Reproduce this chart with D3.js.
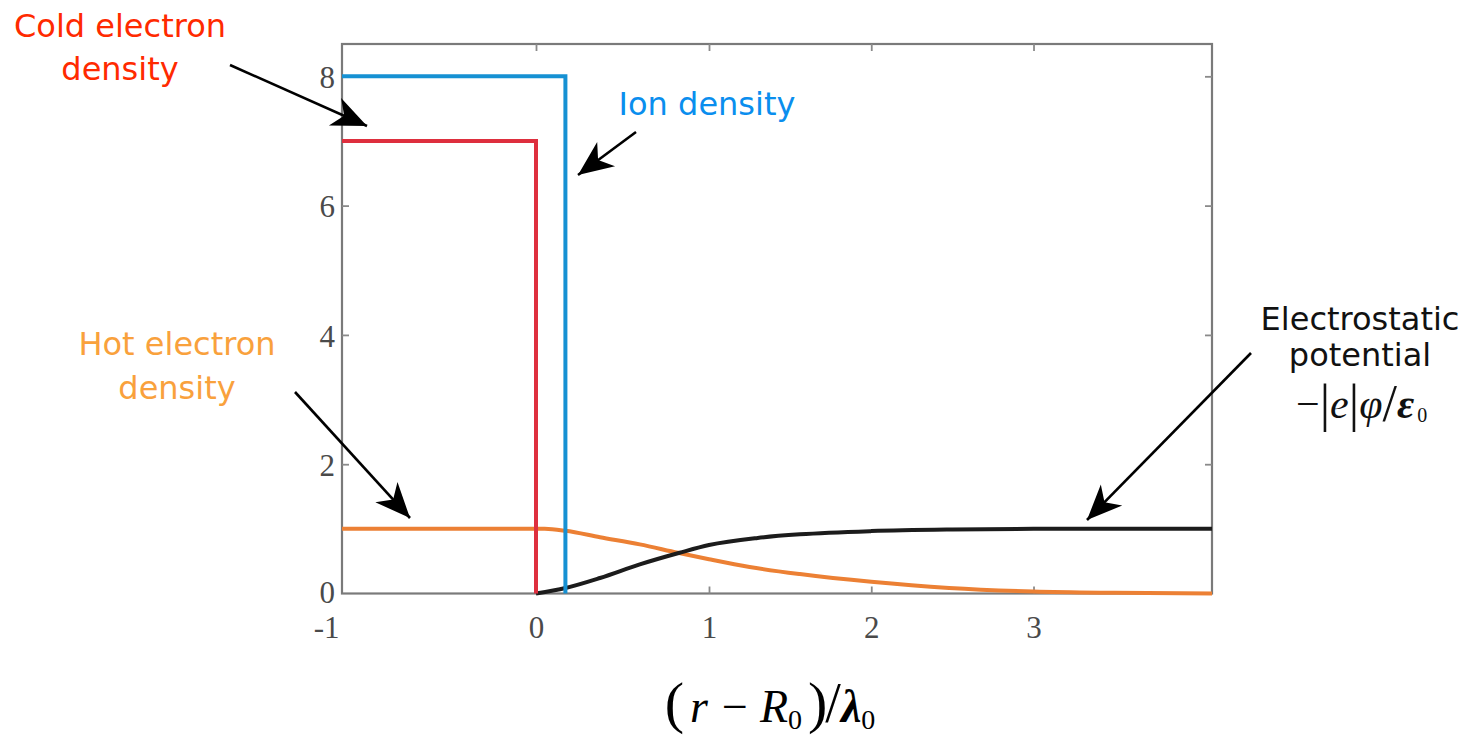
<!DOCTYPE html>
<html>
<head>
<meta charset="utf-8">
<script src="https://cdn.jsdelivr.net/npm/d3@7"></script>
<style>
  html, body { margin: 0; padding: 0; background: #fff; }
  svg { display: block; }
</style>
</head>
<body>
<svg id="chart" width="1469" height="743"></svg>
<script>
// ---- data ----
const xTickValues = [-1, 0, 1, 2, 3];
const yTickValues = [0, 2, 4, 6, 8];

const ionX  = [-1, 0.17, 0.17];
const ionY  = [8, 8, 0];

const coldX = [-1, 0, 0];
const coldY = [7, 7, 0];

const hotX = [-1, 0, 0.05, 0.17, 0.37, 0.6, 0.82, 1.0, 1.25, 1.56, 2.0, 2.48, 3.0, 3.5, 4.1];
const hotY = [1, 1, 1, 0.97, 0.87, 0.76, 0.63, 0.53, 0.41, 0.30, 0.18, 0.085, 0.03, 0.01, 0];

const potX = [0, 0.17, 0.37, 0.6, 0.83, 1.0, 1.3, 1.56, 2.0, 2.5, 3.0, 3.5, 4.1];
const potY = [0, 0.085, 0.24, 0.45, 0.63, 0.75, 0.86, 0.915, 0.965, 0.99, 1.0, 1.0, 1.0];

// ---- layout ----
const svg = d3.select("#chart");
const L = 342, R = 1212, T = 44, B = 593.5;

// the reference's x axis is not uniform (the -1..0 span is wider), so a polylinear scale is used
const x = d3.scaleLinear().domain([-1, 0, 1, 4.1]).range([L, 536, 709, R]);
const y = d3.scaleLinear().domain([0, 8.5]).range([B, T]);

const zip = (xs, ys) => xs.map((v, i) => [v, ys[i]]);

// frame
svg.append("rect")
  .attr("x", L).attr("y", T).attr("width", R - L).attr("height", B - T)
  .attr("fill", "none").attr("stroke", "#7a7a7a").attr("stroke-width", 2.2);

const tickFont = "'Liberation Serif', 'Times New Roman', serif";
const fmt = d => String(d);

// axes
const gx = svg.append("g").attr("transform", `translate(0,${B})`)
  .call(d3.axisBottom(x).tickValues(xTickValues).tickSizeInner(-7).tickSizeOuter(0).tickPadding(22).tickFormat(fmt));
const gy = svg.append("g").attr("transform", `translate(${L},0)`)
  .call(d3.axisLeft(y).tickValues(yTickValues).tickSizeInner(-7).tickSizeOuter(0).tickPadding(7).tickFormat(fmt));
const gt = svg.append("g").attr("transform", `translate(0,${T})`)
  .call(d3.axisTop(x).tickValues(xTickValues).tickSizeInner(-7).tickSizeOuter(0).tickFormat(""));
const gr = svg.append("g").attr("transform", `translate(${R},0)`)
  .call(d3.axisRight(y).tickValues(yTickValues).tickSizeInner(-7).tickSizeOuter(0).tickFormat(""));

[gx, gy, gt, gr].forEach(g => {
  g.select(".domain").remove();
  g.selectAll(".tick line").attr("stroke", "#8a8a8a").attr("stroke-width", 1.8);
  g.selectAll(".tick text").attr("fill", "#4a4a4a").style("font-family", tickFont).style("font-size", "31px");
});
gx.selectAll(".tick text").attr("dy", "0.71em");
gx.selectAll(".tick text").filter(d => d === -1).attr("text-anchor", "end").attr("x", -3);
gy.selectAll(".tick text").attr("dy", "0.36em");
gy.selectAll(".tick text").filter(d => d === 0).attr("y", -2);
// hide tick marks coinciding with frame corners
gx.selectAll(".tick").filter(d => d === -1).select("line").remove();
gt.selectAll(".tick").filter(d => d === -1).select("line").remove();
gy.selectAll(".tick").filter(d => d === 0).select("line").remove();
gr.selectAll(".tick").filter(d => d === 0).select("line").remove();

// series
const lineStep = d3.line().x(d => x(d[0])).y(d => y(d[1]));
const lineSmooth = d3.line().x(d => x(d[0])).y(d => y(d[1])).curve(d3.curveMonotoneX);

svg.append("path").datum(zip(hotX, hotY)).attr("d", lineSmooth)
  .attr("fill", "none").attr("stroke", "#EC8034").attr("stroke-width", 4);
svg.append("path").datum(zip(potX, potY)).attr("d", lineSmooth)
  .attr("fill", "none").attr("stroke", "#1c1c1c").attr("stroke-width", 4);
svg.append("path").datum(zip(coldX, coldY)).attr("d", lineStep)
  .attr("fill", "none").attr("stroke", "#DE2F3E").attr("stroke-width", 4);
svg.append("path").datum(zip(ionX, ionY)).attr("d", lineStep)
  .attr("fill", "none").attr("stroke", "#1691D3").attr("stroke-width", 4);

// arrows
const defs = svg.append("defs");
defs.append("marker").attr("id", "head")
  .attr("markerUnits", "userSpaceOnUse")
  .attr("viewBox", "-36 -16 38 32")
  .attr("refX", 0).attr("refY", 0)
  .attr("markerWidth", 38).attr("markerHeight", 32)
  .attr("orient", "auto")
  .append("path").attr("d", "M0,0 L-35,-15 L-25,0 L-35,15 Z").attr("fill", "#000");

const arrows = [
  [230, 65, 367, 126],
  [636, 132, 578, 175],
  [295, 392, 410, 518],
  [1251, 353, 1087, 520]
];
svg.selectAll("line.arrow").data(arrows).join("line").attr("class", "arrow")
  .attr("x1", d => d[0]).attr("y1", d => d[1]).attr("x2", d => d[2]).attr("y2", d => d[3])
  .attr("stroke", "#000").attr("stroke-width", 2.6).attr("marker-end", "url(#head)");

// labels
const labFont = "'DejaVu Sans', Verdana, sans-serif";
function label(lines, cx, baselines, color) {
  const t = svg.append("text").attr("text-anchor", "middle").attr("fill", color)
    .style("font-family", labFont).style("font-size", "32px");
  lines.forEach((s, i) => t.append("tspan").attr("x", cx).attr("y", baselines[i]).text(s));
}
label(["Cold electron", "density"], 120, [37, 80], "#FF2A00");
label(["Ion density"], 707, [115], "#0A8EEE");
label(["Hot electron", "density"], 177, [355, 399], "#F9A13C");
label(["Electrostatic", "potential"], 1360, [330, 366], "#111");

// math: −|e|φ/ε0
const serif = "'Liberation Serif', 'Times New Roman', serif";
const m = svg.append("text").attr("x", 1296).attr("y", 418).attr("fill", "#111")
  .style("font-family", serif).style("font-size", "42px");
m.append("tspan").text("\u2212");
m.append("tspan").style("font-size", "52px").attr("dy", 3).text("|");
m.append("tspan").style("font-style", "italic").attr("dy", -3).text("e");
m.append("tspan").style("font-size", "52px").attr("dy", 3).text("|");
m.append("tspan").style("font-style", "italic").attr("dy", -3).text("\u03C6");
m.append("tspan").style("font-size", "52px").attr("dy", 3).text("/");
m.append("tspan").style("font-style", "italic").style("font-weight", "bold").attr("dy", -3).text("\u03B5");
m.append("tspan").style("font-size", "20px").attr("dx", 3).attr("dy", 4).text("0");

// x-axis title: (r − R0)/λ0
const a = svg.append("text").attr("x", 770).attr("y", 722).attr("text-anchor", "middle").attr("fill", "#000")
  .style("font-family", serif).style("font-size", "46px");
a.append("tspan").style("font-size", "58px").text("(");
a.append("tspan").style("font-style", "italic").attr("dx", 6).text("r");
a.append("tspan").attr("dx", 14).text("\u2212");
a.append("tspan").style("font-style", "italic").attr("dx", 12).text("R");
a.append("tspan").style("font-size", "28px").attr("dy", 7).text("0");
a.append("tspan").style("font-size", "58px").attr("dy", -7).attr("dx", 6).text(")");
a.append("tspan").style("font-size", "56px").attr("dx", -2).text("/");
a.append("tspan").style("font-style", "italic").style("font-weight", "bold").text("\u03BB");
a.append("tspan").style("font-size", "28px").attr("dy", 7).text("0");
</script>
</body>
</html>
